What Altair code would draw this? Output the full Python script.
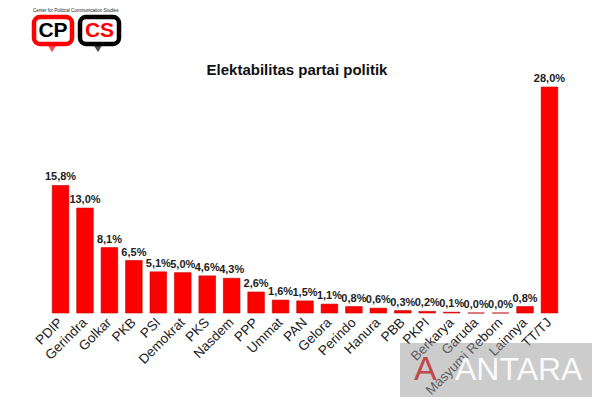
import altair as alt
import pandas as pd

parties = ["PDIP", "Gerindra", "Golkar", "PKB", "PSI", "Demokrat", "PKS", "Nasdem",
           "PPP", "Ummat", "PAN", "Gelora", "Perindo", "Hanura", "PBB", "PKPI",
           "Berkarya", "Garuda", "Masyumi Reborn", "Lainnya", "TT/TJ"]
elektabilitas = [15.8, 13.0, 8.1, 6.5, 5.1, 5.0, 4.6, 4.3, 2.6, 1.6, 1.5, 1.1,
                 0.8, 0.6, 0.3, 0.2, 0.1, 0.0, 0.0, 0.8, 28.0]

df = pd.DataFrame({"Partai": parties, "Persen": elektabilitas})
df["Label"] = df["Persen"].map(lambda v: f"{v:.1f}".replace(".", ",") + "%")

FONT = "Liberation Sans"
RED = "#ff0000"

x = alt.X("Partai:N", sort=parties, title=None,
          scale=alt.Scale(paddingInner=0.32, paddingOuter=0.5),
          axis=alt.Axis(labelAngle=315, labelAlign="right", labelBaseline="middle",
                        labelPadding=7, labelFontSize=13.5, labelFont=FONT,
                        labelColor="#222", domain=False, ticks=False))
y = alt.Y("Persen:Q", scale=alt.Scale(domain=[0, 28], nice=False), axis=None)

bars = alt.Chart(df).mark_bar(color=RED, stroke="#c00000", strokeWidth=0.6).encode(
    x=x, y=y, tooltip=["Partai", "Persen"]
)
labels = alt.Chart(df).mark_text(dy=-8, fontSize=11, fontWeight="bold",
                                 font=FONT, color="#222").encode(
    x=alt.X("Partai:N", sort=parties), y="Persen:Q", text="Label:N"
)

one = alt.Data(values=[{}])
title = alt.Chart(one).mark_text(fontSize=15, fontWeight="bold", font=FONT, color="#111").encode(
    x=alt.value(257), y=alt.value(-17), text=alt.value("Elektabilitas partai politik"))

# logo CPCS (pojok kiri atas)
logo_cap = alt.Chart(one).mark_text(fontSize=4.5, font=FONT, align="left", color="#222").encode(
    x=alt.value(-7), y=alt.value(-76), text=alt.value("Center for Political Communication Studies"))
cp_box = alt.Chart(one).mark_rect(fill="white", stroke=RED, strokeWidth=4.5, cornerRadius=6).encode(
    x=alt.value(-6), x2=alt.value(32), y=alt.value(-70), y2=alt.value(-43))
cs_box = alt.Chart(one).mark_rect(fill="white", stroke="black", strokeWidth=4.5, cornerRadius=6).encode(
    x=alt.value(40), x2=alt.value(79), y=alt.value(-70), y2=alt.value(-43))
cp_tail = alt.Chart(one).mark_point(shape="triangle-down", filled=True, color=RED, size=60).encode(
    x=alt.value(12), y=alt.value(-38))
cs_tail = alt.Chart(one).mark_point(shape="triangle-down", filled=True, color="black", size=60).encode(
    x=alt.value(58), y=alt.value(-38))
cp_txt = alt.Chart(one).mark_text(fontSize=21, fontWeight="bold", font=FONT, color="black").encode(
    x=alt.value(13), y=alt.value(-56), text=alt.value("CP"))
cs_txt = alt.Chart(one).mark_text(fontSize=21, fontWeight="bold", font=FONT, color=RED).encode(
    x=alt.value(59.5), y=alt.value(-56), text=alt.value("CS"))

# watermark ANTARA
wm_box = alt.Chart(one).mark_rect(fill="#9a9a9a", opacity=0.5).encode(
    x=alt.value(360), x2=alt.value(570), y=alt.value(256), y2=alt.value(310))
wm_txt = alt.Chart(one).mark_text(fontSize=32, font=FONT, color="white", align="left",
                                  opacity=0.9).encode(
    x=alt.value(415), y=alt.value(283), text=alt.value("ANTARA"))
wm_mark = alt.Chart(one).mark_text(fontSize=34, font=FONT, color="#c0303a", align="left",
                                   opacity=0.85).encode(
    x=alt.value(374), y=alt.value(283), text=alt.value("A"))

chart = alt.layer(
    bars, labels, title, logo_cap, cp_box, cs_box, cp_tail, cs_tail, cp_txt, cs_txt,
    wm_box, wm_mark, wm_txt
).properties(
    width=530, height=226,
    autosize=alt.AutoSizeParams(type="none"),
    padding={"left": 32, "top": 79, "right": 22, "bottom": 87},
).configure(background="white").configure_view(strokeWidth=0)

chart.save("out.html", embed_options={"renderer": "svg", "actions": False})
